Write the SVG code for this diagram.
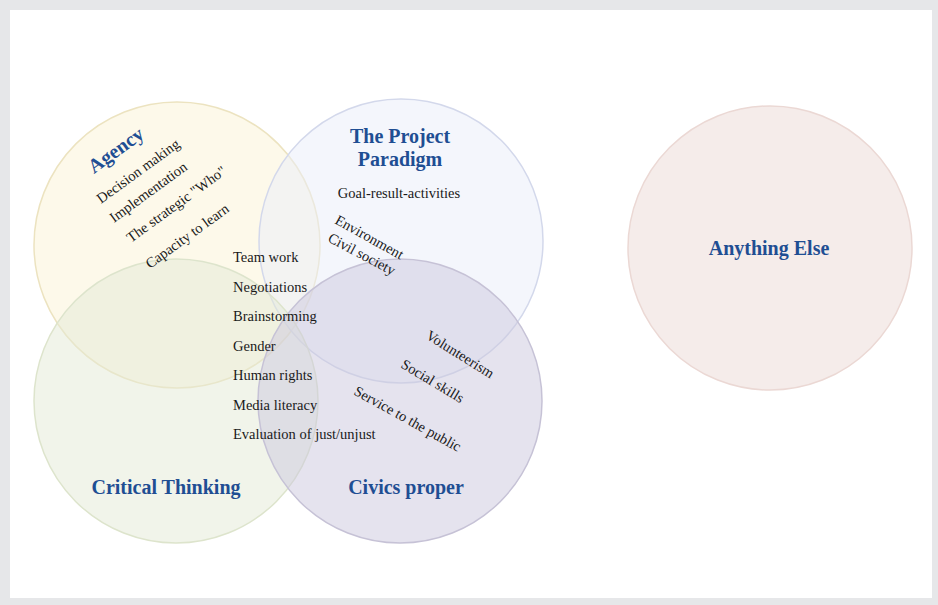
<svg xmlns="http://www.w3.org/2000/svg" width="938" height="605" viewBox="0 0 938 605">
<style>
.title{font-family:"Liberation Serif","Times New Roman",serif;font-weight:bold;font-size:20px;fill:#1f4e93}
.item{font-family:"Liberation Serif","Times New Roman",serif;font-size:14.5px;fill:#1a1a1a}
.c{stroke-width:1.5}
</style>
<rect x="0" y="0" width="938" height="605" fill="#e6e7e9"/>
<rect x="10" y="10" width="922" height="588" fill="#ffffff"/>
<g id="agency">
<circle class="c" cx="177" cy="245" r="143" fill="#fbf3d5" fill-opacity="0.5" stroke="#ece3c0"/>
</g>
<g id="project">
<circle class="c" cx="401" cy="241" r="142" fill="#e9edf9" fill-opacity="0.5" stroke="#d3d8eb"/>
</g>
<g id="critical">
<circle class="c" cx="176" cy="401" r="142" fill="#e3e9d5" fill-opacity="0.5" stroke="#dde4cc"/>
</g>
<g id="civics">
<circle class="c" cx="400" cy="401" r="142" fill="#cbc7dd" fill-opacity="0.5" stroke="#c6c2d6"/>
</g>
<g id="anything-else">
<circle class="c" cx="770" cy="248" r="142" fill="#f5ecea" stroke="#ebd8d4"/>
<text class="title" x="769" y="255" text-anchor="middle">Anything Else</text>
</g>
<g id="agency-labels">
<text class="title" font-size="21" transform="translate(94,174) rotate(-36)">Agency</text>
<text class="item" font-size="15" transform="translate(101,204) rotate(-36)">Decision making</text>
<text class="item" font-size="15" transform="translate(114,223) rotate(-36)">Implementation</text>
<text class="item" font-size="15" transform="translate(131,243) rotate(-36)">The strategic "Who"</text>
<text class="item" font-size="15" transform="translate(150,269) rotate(-36)">Capacity to learn</text>
</g>
<g id="project-labels">
<text class="title" x="400" y="143" text-anchor="middle">The Project</text>
<text class="title" x="400" y="166" text-anchor="middle">Paradigm</text>
<text class="item" x="399" y="198" text-anchor="middle" font-size="14">Goal-result-activities</text>
<text class="item" transform="translate(334,223) rotate(29)">Environment</text>
<text class="item" transform="translate(327,241) rotate(28)">Civil society</text>
</g>
<g id="critical-labels">
<text class="title" x="166" y="494" text-anchor="middle">Critical Thinking</text>
</g>
<g id="civics-labels">
<text class="title" x="406" y="494" text-anchor="middle">Civics proper</text>
<text class="item" transform="translate(425,338) rotate(32)">Volunteerism</text>
<text class="item" transform="translate(400,367) rotate(31)">Social skills</text>
<text class="item" transform="translate(353,394) rotate(29)">Service to the public</text>
</g>
<g id="shared-labels">
<text class="item" x="233" y="262">Team work</text>
<text class="item" x="233" y="292">Negotiations</text>
<text class="item" x="233" y="321">Brainstorming</text>
<text class="item" x="233" y="351">Gender</text>
<text class="item" x="233" y="380">Human rights</text>
<text class="item" x="233" y="410">Media literacy</text>
<text class="item" x="233" y="439">Evaluation of just/unjust</text>
</g>
<g id="connectors"/>
</svg>
